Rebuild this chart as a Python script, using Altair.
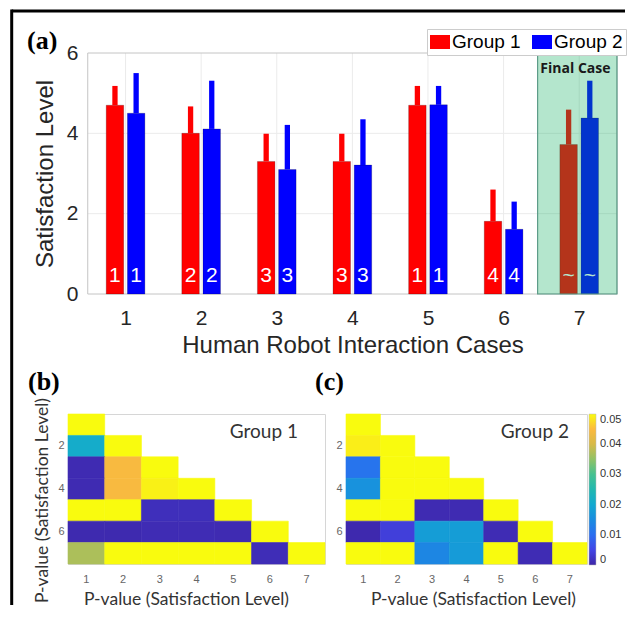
import altair as alt
import pandas as pd

# ---------------- data ----------------
cases = [1, 2, 3, 4, 5, 6, 7]
groups = ["Group 1", "Group 2"]
group_colors = ["#ff0000", "#0000ff"]

g1_mean = [4.70, 4.00, 3.30, 3.30, 4.70, 1.81, 3.72]
g1_upper = [5.18, 4.67, 3.99, 3.99, 5.18, 2.60, 4.59]
g2_mean = [4.50, 4.11, 3.10, 3.21, 4.71, 1.61, 4.38]
g2_upper = [5.50, 5.31, 4.21, 4.35, 5.18, 2.30, 5.31]
g1_rank = ["1", "2", "3", "3", "1", "4", "~"]
g2_rank = ["1", "2", "3", "3", "1", "4", "~"]

y_ticks = [0, 2, 4, 6]
grid_y = [2, 4]

# lower-triangular p-value matrices (row i holds columns 1..i)
p_group1 = [
    [1.0],
    [0.021, 1.0],
    [0.0008, 0.0445, 1.0],
    [0.0008, 0.0445, 0.0492, 1.0],
    [0.30, 0.12, 0.0015, 0.0015, 1.0],
    [0.0006, 0.0006, 0.001, 0.001, 0.0008, 1.0],
    [0.037, 0.20, 0.15, 0.15, 0.25, 0.0012, 1.0],
]
p_group2 = [
    [1.0],
    [0.049, 1.0],
    [0.011, 0.30, 1.0],
    [0.016, 0.25, 0.60, 1.0],
    [0.40, 0.20, 0.0008, 0.0008, 1.0],
    [0.0005, 0.004, 0.018, 0.018, 0.001, 1.0],
    [0.20, 0.30, 0.014, 0.0175, 0.15, 0.001, 1.0],
]

cbar_values = [0, 0.01, 0.02, 0.03, 0.04, 0.05]
parula_stops = [0, 0.005, 0.010, 0.015, 0.020, 0.025, 0.030, 0.035, 0.040, 0.045, 0.050]
parula_colors = ["#3e26a8", "#4245e6", "#2a6ef0", "#1a8ce0", "#12a9d0", "#21b8b0",
                 "#45c190", "#90c266", "#d7ba48", "#fcba3f", "#f9fb0e"]

# ---------------- tables ----------------
bar_rows = []
for g, means, ups, ranks in [("Group 1", g1_mean, g1_upper, g1_rank),
                             ("Group 2", g2_mean, g2_upper, g2_rank)]:
    for c, m, u, r in zip(cases, means, ups, ranks):
        bar_rows.append({"case": c, "group": g, "mean": m, "upper": u, "rank": r, "base": 0})
bars_df = pd.DataFrame(bar_rows)

frame_df = pd.DataFrame({"x0": [0.5], "x1": [7.5], "y0": [0], "y1": [6]})
final_df = pd.DataFrame({"x0": [6.45], "x1": [7.5], "y0": [0], "y1": [6],
                         "label": ["Final Case"], "lx": [6.95], "ly": [5.61]})
ygrid_df = pd.DataFrame({"y": grid_y, "x0": 0.5, "x1": 7.5})
xgrid_df = pd.DataFrame({"case": cases, "y0": 0, "y1": 6})


def heat_df(mat):
    rows = []
    for i, row in enumerate(mat):
        for j, v in enumerate(row):
            rows.append({"row": i + 1, "col": j + 1, "p": v})
    return pd.DataFrame(rows)


# ---------------- top chart (a) ----------------
SANS = "Liberation Sans"
xs = alt.Scale(domain=[0.305, 7.5], nice=False, zero=False)
ys = alt.Scale(domain=[0, 6], nice=False)
cscale = alt.Scale(domain=groups, range=group_colors)

xaxis = alt.Axis(values=cases, format="d", grid=False, domain=False, ticks=False, tickSize=0,
                 labelFlush=False, labelFont=SANS, labelFontSize=21, labelColor="#262626",
                 labelPadding=13, title="Human Robot Interaction Cases", titleFont=SANS,
                 titleFontSize=24, titleFontWeight="normal", titleColor="#262626",
                 titleX=284.5, titleY=51, titleBaseline="middle", titleAlign="center")
yaxis = alt.Axis(values=y_ticks, grid=False, domain=False, ticks=False, tickSize=0, offset=-15,
                 labelFont=SANS, labelFontSize=21, labelColor="#262626", labelPadding=5,
                 title="Satisfaction Level", titleFont=SANS, titleFontSize=24,
                 titleFontWeight="normal", titleColor="#262626", titleAngle=270,
                 titleX=-38, titleY=120.5, titleAlign="center", titleBaseline="middle")
leg = alt.Legend(title=None, orient="none", legendX=359, legendY=-24, direction="horizontal",
                 symbolType="M-1,-0.7H1V0.7H-1Z", symbolSize=400, symbolStrokeWidth=0,
                 labelFont=SANS, labelFontSize=19, labelColor="black", labelOffset=2,
                 columnPadding=11, padding=3, strokeColor="#cccccc", fillColor="white")


def X(f):
    return alt.X(f, scale=xs, axis=xaxis)


def Y(f):
    return alt.Y(f, scale=ys, axis=yaxis)


pos_expr = "datum.case + (datum.group == 'Group 1' ? -0.14 : 0.14)"

ygrid = alt.Chart(ygrid_df).mark_rule(color="#ebebeb", strokeWidth=1).encode(
    x=X("x0:Q"), x2="x1:Q", y=Y("y:Q"))
xgrid = alt.Chart(xgrid_df).mark_rule(color="#ebebeb", strokeWidth=1).encode(
    x=X("case:Q"), y=Y("y0:Q"), y2="y1:Q")
frame = alt.Chart(frame_df).mark_rect(fillOpacity=0, stroke="#c4c4c4", strokeWidth=1).encode(
    x=X("x0:Q"), x2="x1:Q", y=Y("y0:Q"), y2="y1:Q")
bars = alt.Chart(bars_df).transform_calculate(pos=pos_expr).mark_bar(
    width=17.5, orient="vertical", stroke="black", strokeWidth=0.6, strokeOpacity=0.35).encode(
    x=X("pos:Q"), y=Y("base:Q"), y2="mean:Q",
    color=alt.Color("group:N", scale=cscale, legend=leg))
errs = alt.Chart(bars_df).transform_calculate(pos=pos_expr).mark_bar(
    width=5.3, orient="vertical").encode(
    x=X("pos:Q"), y=Y("mean:Q"), y2="upper:Q",
    color=alt.Color("group:N", scale=cscale, legend=leg))
ranks = alt.Chart(bars_df).transform_calculate(pos=pos_expr, ly="0.45").mark_text(
    color="white", font=SANS, fontSize=21, baseline="middle").encode(
    x=X("pos:Q"), y=Y("ly:Q"), text="rank:N")
green = alt.Chart(final_df).mark_rect(fill="#05ac58", fillOpacity=0.3, stroke="#5e9c89",
                                      strokeWidth=1.2).encode(
    x=X("x0:Q"), x2="x1:Q", y=Y("y0:Q"), y2="y1:Q")
final_txt = alt.Chart(final_df).mark_text(font="Open Sans", fontWeight="bold", fontSize=14,
                                          color="#1a1a1a", baseline="middle").encode(
    x=X("lx:Q"), y=Y("ly:Q"), text="label:N")
tag_a = alt.Chart(pd.DataFrame({"t": ["(a)"]})).mark_text(
    font="Liberation Serif", fontWeight="bold", fontSize=26, align="left", baseline="middle",
    color="black").encode(text="t:N", x=alt.value(-41), y=alt.value(-12))
one = pd.DataFrame({"d": [0]})
top_line = alt.Chart(one).mark_rule(color="black", strokeWidth=3).encode(
    x=alt.value(-56.3), x2=alt.value(557), y=alt.value(-42))
left_line = alt.Chart(one).mark_rule(color="black", strokeWidth=3).encode(
    x=alt.value(-56.3), y=alt.value(-43.5), y2=alt.value(552))

top = alt.layer(ygrid, xgrid, frame, bars, errs, ranks, green, final_txt, tag_a,
                top_line, left_line).properties(
    width=554, height=241, view=alt.ViewBackground(stroke=None))

# ---------------- heatmaps (b), (c) ----------------
fill_scale = alt.Scale(domain=parula_stops, range=parula_colors, clamp=True, interpolate="rgb")
# same colours for the cell edges (hides anti-aliasing seams); domain in per-mille so the
# edge scale is not merged into the colour-bar legend
edge_scale = alt.Scale(domain=[s * 1000 for s in parula_stops], range=parula_colors,
                       clamp=True, interpolate="rgb")
band = alt.Scale(paddingInner=0, paddingOuter=0)


def heat(mat, width, title_x, y_title, legend, label, label_x, tag, tag_x):
    xa = alt.Axis(labelAngle=0, domain=False, ticks=False, labelFont=SANS, labelFontSize=11,
                  labelColor="#666666", labelPadding=9, title="P-value (Satisfaction Level)",
                  titleFont="Lato", titleFontSize=17.5, titleFontWeight="normal",
                  titleColor="#333333", titleX=title_x, titleY=35, titleBaseline="middle",
                  titleAlign="center")
    if y_title:
        ya = alt.Axis(values=[2, 4, 6], domain=False, ticks=False, labelFont=SANS,
                      labelFontSize=11, labelColor="#666666", labelPadding=4,
                      title=y_title, titleFont="Lato", titleFontSize=17.5,
                      titleFontWeight="normal", titleColor="#333333", titleAngle=270,
                      titleX=-26, titleY=86, titleAlign="center", titleBaseline="middle")
    else:
        ya = alt.Axis(values=[2, 4, 6], domain=False, ticks=False, labelFont=SANS,
                      labelFontSize=11, labelColor="#666666", labelPadding=4, title=None)
    rect = alt.Chart(heat_df(mat)).transform_calculate(
        p_edge="datum.p * 1000").mark_rect(strokeWidth=0.6).encode(
        x=alt.X("col:O", scale=band, axis=xa),
        y=alt.Y("row:O", scale=band, axis=ya),
        fill=alt.Fill("p:Q", scale=fill_scale, legend=legend),
        stroke=alt.Stroke("p_edge:Q", scale=edge_scale, legend=None))
    lab = alt.Chart(pd.DataFrame({"t": [label]})).mark_text(
        font="Lato", fontSize=19, color="#333333", align="right", baseline="middle").encode(
        text="t:N", x=alt.value(label_x), y=alt.value(18))
    tg = alt.Chart(pd.DataFrame({"t": [tag]})).mark_text(
        font="Liberation Serif", fontWeight="bold", fontSize=26, align="left",
        baseline="middle", color="black").encode(
        text="t:N", x=alt.value(tag_x), y=alt.value(-32))
    return alt.layer(rect, lab, tg).properties(
        width=width, height=150, view=alt.ViewBackground(stroke="#d6d6d6"))


cleg = alt.Legend(title=None, type="gradient", orient="right", offset=2, gradientLength=151,
                  gradientThickness=7, values=cbar_values,
                  labelExpr="datum.value == 0 ? '0' : format(datum.value, '.2f')",
                  labelFont=SANS, labelFontSize=11, labelColor="#333333", labelOffset=4,
                  padding=0, gradientStrokeColor="#bbbbbb", gradientStrokeWidth=0.5)

hb = heat(p_group1, 257, 118, "P-value (Satisfaction Level)", None, "Group 1", 230, "(b)", -40)
hc = heat(p_group2, 241, 127, None, cleg, "Group 2", 223, "(c)", -31)

row = alt.hconcat(hb, hc, spacing=21, bounds="flush").resolve_scale(
    fill="independent", stroke="independent", x="independent", y="independent")

chart = alt.vconcat(top, row, spacing=120, bounds="flush").resolve_scale(
    x="independent", y="independent", color="independent", fill="independent",
    stroke="independent").properties(
    padding={"left": 2, "top": 0, "right": 0, "bottom": 0})

chart.save("out.html", embed_options={"renderer": "svg", "actions": False})
